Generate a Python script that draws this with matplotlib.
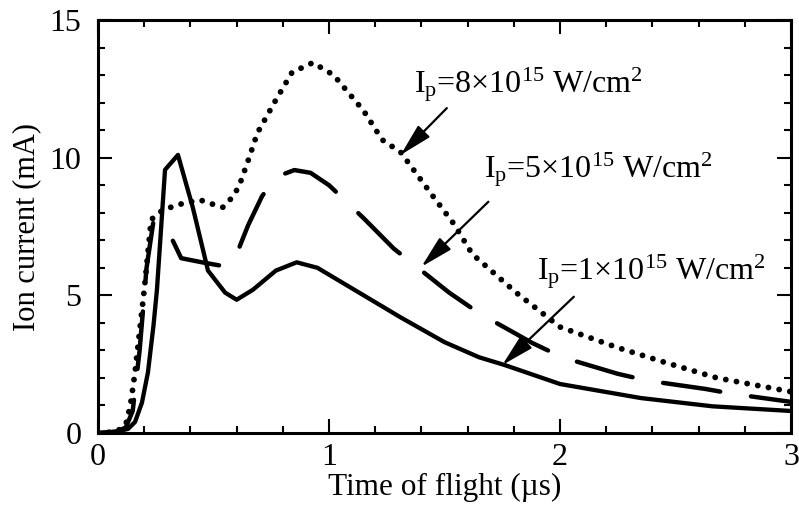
import numpy as np
import matplotlib
matplotlib.use("Agg")
import matplotlib.pyplot as plt
from matplotlib.ticker import MultipleLocator

plt.rcParams['font.family'] = ['Liberation Serif', 'DejaVu Serif']
plt.rcParams['mathtext.fontset'] = 'custom'
plt.rcParams['mathtext.rm'] = 'Liberation Serif'
plt.rcParams['mathtext.it'] = 'Liberation Serif:italic'

# 1e15 W/cm2 (solid)
t_1 = [0, 0.08, 0.13, 0.16, 0.19, 0.216, 0.24, 0.255, 0.29, 0.346, 0.41, 0.476,
       0.55, 0.60, 0.67, 0.77, 0.86, 0.95, 1.05, 1.15, 1.31, 1.5, 1.65, 1.76,
       2.0, 2.35, 2.66, 3.0]
i_1 = [0, 0.05, 0.15, 0.4, 1.1, 2.2, 3.9, 5.2, 9.56, 10.1, 8.2, 5.9,
       5.1, 4.84, 5.2, 5.9, 6.2, 6.0, 5.5, 5.0, 4.2, 3.3, 2.75, 2.47,
       1.78, 1.27, 0.97, 0.8]

# 5e15 W/cm2 (dashed)
t_5 = [0, 0.08, 0.12, 0.15, 0.18, 0.21, 0.24, 0.30, 0.36, 0.45, 0.55, 0.60,
       0.65, 0.71, 0.77, 0.85, 0.92, 1.0, 1.15, 1.28, 1.52, 1.65, 1.88, 2.01,
       2.25, 2.38, 2.63, 2.75, 3.0]
i_5 = [0, 0.05, 0.2, 0.8, 3.0, 6.0, 7.7, 7.4, 6.35, 6.2, 6.05, 6.5,
       7.55, 8.6, 9.3, 9.55, 9.45, 9.0, 7.8, 6.7, 5.1, 4.35, 3.27, 2.75,
       2.15, 1.9, 1.6, 1.42, 1.13]

# 8e15 W/cm2 (dotted)
t_8 = [0, 0.08, 0.12, 0.14, 0.16, 0.20, 0.23, 0.28, 0.35, 0.44, 0.50, 0.54,
       0.58, 0.61, 0.65, 0.69, 0.77, 0.84, 0.93, 1.02, 1.15, 1.23, 1.31, 1.45,
       1.54, 1.62, 1.81, 2.0, 2.25, 2.46, 2.68, 3.0]
i_8 = [0, 0.05, 0.3, 1.0, 2.2, 5.2, 7.75, 8.1, 8.3, 8.47, 8.3, 8.2,
       8.55, 8.95, 9.9, 10.9, 12.1, 13.1, 13.45, 13.0, 11.7, 10.65, 10.2, 8.6,
       7.6, 6.5, 5.1, 3.85, 3.1, 2.55, 2.0, 1.5]

labels = [r'$\mathrm{I_p}$=8×10$^{15}$ W/cm$^2$',
          r'$\mathrm{I_p}$=5×10$^{15}$ W/cm$^2$',
          r'$\mathrm{I_p}$=1×10$^{15}$ W/cm$^2$']
label_pos = [(1.37, 12.35), (1.67, 9.27), (1.90, 5.56)]
arrow_tail = [(1.51, 11.8), (1.69, 8.4), (2.06, 4.95)]
arrow_tip = [(1.31, 10.1), (1.40, 6.04), (1.75, 2.47)]

fig = plt.figure(figsize=(7.99, 5.08), dpi=100)
ax = fig.add_axes([0.1227, 0.1476, 0.8673, 0.813])

ax.plot(t_1, i_1, color='black', lw=3.1, solid_capstyle='round')
ax.plot(t_5, i_5, color='black', lw=3.2, dashes=[13, 7], dash_capstyle='round')
ax.plot(t_8, i_8, color='black', lw=4.2, linestyle=(0, (0.01, 1.85)), dash_capstyle='round')

for lab, pos, tail, tip in zip(labels, label_pos, arrow_tail, arrow_tip):
    ax.text(pos[0], pos[1], lab, fontsize=23, ha='left', va='baseline')
    ax.annotate('', xy=tip, xytext=tail,
                arrowprops=dict(arrowstyle='-|>,head_length=1.0,head_width=0.25',
                                color='black', lw=1.6, mutation_scale=20,
                                shrinkA=0, shrinkB=0))

ax.set_xlim(0, 3)
ax.set_ylim(0, 15)
ax.xaxis.set_major_locator(MultipleLocator(1))
ax.xaxis.set_minor_locator(MultipleLocator(0.2))
ax.yaxis.set_major_locator(MultipleLocator(5))
ax.yaxis.set_minor_locator(MultipleLocator(1))
ax.tick_params(which='both', direction='in', top=True, right=True, width=1.5)
ax.tick_params(which='major', length=10, labelsize=23, pad=7)
ax.tick_params(axis='y', which='major', pad=12)
ax.tick_params(which='minor', length=5)
for s in ax.spines.values():
    s.set_linewidth(2.2)

ax.set_xlabel('Time of flight (µs)', fontsize=22.5, labelpad=1)
ax.set_ylabel('Ion current (mA)', fontsize=22, labelpad=6)

fig.savefig('out.png', dpi=100)
